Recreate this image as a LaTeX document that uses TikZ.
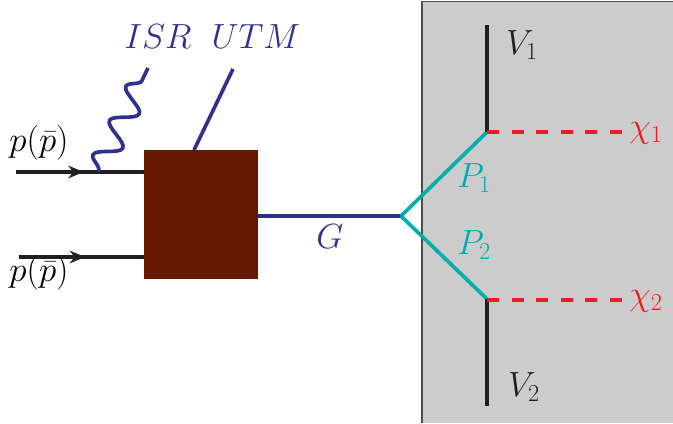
\documentclass[tikz,border=0pt]{standalone}
\usetikzlibrary{arrows.meta, decorations.pathmorphing, decorations.markings, calc}

\definecolor{qblue}{HTML}{2E3192}
\definecolor{qcyan}{HTML}{00AEB0}
\definecolor{qred}{HTML}{ED1C24}
\definecolor{qbrown}{HTML}{661900}
\definecolor{qblack}{HTML}{231F20}
\definecolor{qgrey}{HTML}{CCCCCC}
\definecolor{qedge}{HTML}{4D4D4D}

\begin{document}
\begin{tikzpicture}[x=0.025cm, y=-0.025cm,
  lbl/.style={font=\fontsize{23}{27}\selectfont, inner sep=0pt},
  big/.style={font=\fontsize{24.5}{29}\selectfont, inner sep=0pt},
  fer/.style={line width=2.6pt, draw=qblack, postaction={decorate},
    decoration={markings, mark=at position 0.53 with {\arrow{Stealth[length=11pt,width=9pt]}}}},
  bos/.style={line width=2.6pt, draw=qblue},
  glu/.style={line width=2.6pt, draw=qblue, decorate,
    decoration={snake, segment length=0.95cm, amplitude=0.3cm, pre length=1pt, post length=1pt}},
  scl/.style={line width=2.6pt, draw=qcyan},
  vec/.style={line width=2.6pt, draw=qblack},
  inv/.style={line width=2.8pt, draw=qred, dash pattern=on 8.5pt off 9pt},
  hubbox/.style={rectangle, fill=qbrown, minimum width=2.85cm, minimum height=3.225cm, inner sep=0pt}
]
  \useasboundingbox (0,0) rectangle (673,423);
  % detector region
  \fill[qgrey] (422,1.5) rectangle (673,423);
  \draw[qedge, line width=1pt] (422,423) -- (422,1.5) -- (673,1.5);

  % production
  \node[hubbox] (hub) at (201,214.5) {};
  \coordinate (in1) at (16,172);
  \coordinate (in2) at (19,257);
  \draw[fer] (in1) -- (in1 -| hub.west);
  \draw[fer] (in2) -- (in2 -| hub.west);
  \node[lbl] (pa) at (39,143) {$p(\bar{p})$};
  \node[lbl] (pb) at (39,273) {$p(\bar{p})$};

  \coordinate (isrv) at (98,172);
  \coordinate (isrt) at (148,68);
  \draw[glu] (isrv) -- (isrt);
  \coordinate (utmv) at (194,150);
  \coordinate (utmt) at (233,69);
  \draw[bos] (utmv) -- (utmt);
  \node[big, qblue] (isr) at (158,37) {$ISR$};
  \node[big, qblue] (utm) at (256,37) {$UTM$};

  % decay
  \coordinate (gv) at (401,216);
  \draw[bos] (hub.east |- gv) -- (gv);
  \node[lbl, qblue] (g) at (330,237) {$G$};
  \coordinate (v1) at (487,132);
  \coordinate (v2) at (487,299);
  \draw[scl] (gv) -- (v1);
  \draw[scl] (gv) -- (v2);
  \node[lbl, qcyan] (p1) at (474,178) {$P_1$};
  \node[lbl, qcyan] (p2) at (474,245) {$P_2$};
  \coordinate (t1) at (487,25);
  \coordinate (t2) at (487,406);
  \draw[vec] (v1) -- (t1);
  \draw[vec] (v2) -- (t2);
  \node[lbl, qblack] (w1) at (522,45) {$V_1$};
  \node[lbl, qblack] (w2) at (524,387) {$V_2$};
  \coordinate (c1) at (622,132);
  \coordinate (c2) at (622,300);
  \draw[inv] (v1) -- (c1);
  \draw[inv] (v2 |- c2) -- (c2);
  \node[lbl, qred] (x1) at (646,133) {$\chi_1$};
  \node[lbl, qred] (x2) at (646,301) {$\chi_2$};
\end{tikzpicture}
\end{document}
